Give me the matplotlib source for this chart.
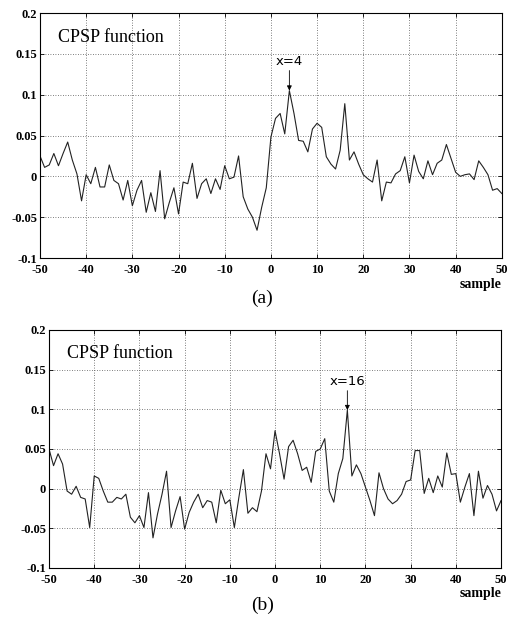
import matplotlib.pyplot as plt
from matplotlib.ticker import FixedLocator

# sample axis shared by both panels
samples = list(range(-50, 51))

# (a) CPSP function, peak at x=4
cpsp_a = [0.025, 0.011, 0.014, 0.028, 0.013, 0.028, 0.042, 0.020, 0.003, -0.030,
          0.002, -0.009, 0.011, -0.013, -0.013, 0.014, -0.005, -0.009, -0.029, -0.005,
          -0.036, -0.017, -0.005, -0.044, -0.020, -0.043, 0.007, -0.052, -0.032, -0.014,
          -0.046, -0.007, -0.009, 0.016, -0.027, -0.009, -0.003, -0.021, -0.003, -0.016,
          0.013, -0.003, -0.001, 0.025, -0.025, -0.040, -0.050, -0.066, -0.038, -0.014,
          0.048, 0.071, 0.077, 0.052, 0.105, 0.077, 0.044, 0.043, 0.030, 0.058,
          0.065, 0.060, 0.024, 0.015, 0.009, 0.032, 0.089, 0.020, 0.030, 0.015,
          0.002, -0.003, -0.007, 0.020, -0.030, -0.007, -0.008, 0.003, 0.007, 0.024,
          -0.008, 0.026, 0.006, -0.003, 0.019, 0.002, 0.016, 0.020, 0.039, 0.022,
          0.005, 0.000, 0.002, 0.003, -0.004, 0.019, 0.011, 0.002, -0.017, -0.015,
          -0.021]

# (b) CPSP function, peak at x=16
cpsp_b = [0.050, 0.029, 0.044, 0.031, -0.003, -0.007, 0.003, -0.011, -0.013, -0.049,
          0.016, 0.013, -0.003, -0.017, -0.017, -0.011, -0.013, -0.007, -0.036, -0.043,
          -0.034, -0.049, -0.005, -0.062, -0.032, -0.007, 0.022, -0.049, -0.028, -0.010,
          -0.051, -0.030, -0.017, -0.007, -0.024, -0.015, -0.017, -0.043, -0.002, -0.019,
          -0.014, -0.049, -0.011, 0.024, -0.031, -0.024, -0.029, -0.003, 0.044, 0.025,
          0.073, 0.044, 0.012, 0.053, 0.061, 0.044, 0.023, 0.027, 0.008, 0.047,
          0.050, 0.063, -0.003, -0.017, 0.019, 0.038, 0.099, 0.016, 0.030, 0.019,
          0.002, -0.015, -0.034, 0.020, 0.000, -0.013, -0.019, -0.015, -0.007, 0.009,
          0.011, 0.048, 0.048, -0.006, 0.013, -0.005, 0.016, 0.002, 0.045, 0.018,
          0.019, -0.017, 0.002, 0.019, -0.034, 0.022, -0.012, 0.004, -0.007, -0.028,
          -0.015]

xticks = [-50, -40, -30, -20, -10, 0, 10, 20, 30, 40, 50]
yticks = [-0.1, -0.05, 0, 0.05, 0.1, 0.15, 0.2]
ytick_labels = ['-0.1', '-0.05', '0', '0.05', '0.1', '0.15', '0.2']

tick_font = dict(family='Liberation Serif', weight='bold', size=9)


def draw_panel(ax, y, peak_x, peak_label, tag, tag_y):
    ax.plot(samples, y, color='#222222', lw=0.8)
    ax.set_xlim(-50, 50)
    ax.set_ylim(-0.1, 0.2)
    ax.xaxis.set_major_locator(FixedLocator(xticks))
    ax.yaxis.set_major_locator(FixedLocator(yticks))
    ax.set_xticklabels([str(t) for t in xticks], **tick_font)
    ax.set_yticklabels(ytick_labels, **tick_font)
    ax.tick_params(direction='in', length=3, width=0.6, top=True, right=True)
    ax.tick_params(axis='x', pad=4)
    ax.tick_params(axis='y', pad=2)
    ax.grid(True, linestyle=(0, (1, 2)), color='#555555', lw=0.6)
    for s in ax.spines.values():
        s.set_linewidth(0.8)
    ax.text(-46, 0.165, 'CPSP function', family='Liberation Serif', fontsize=13)
    peak_y = y[samples.index(peak_x)]
    ax.annotate(peak_label, xy=(peak_x, peak_y), xytext=(peak_x, peak_y + 0.028),
                ha='center', va='bottom', fontsize=9.5, family='DejaVu Sans',
                arrowprops=dict(arrowstyle='-|>', color='black', lw=0.6,
                                mutation_scale=7, shrinkA=0, shrinkB=0))
    ax.text(1.0, -0.08, 'sample', transform=ax.transAxes, ha='right', va='top',
            family='Liberation Serif', weight='bold', fontsize=10)
    fig.text(0.508, tag_y, tag, ha='center', va='center',
             family='Liberation Serif', fontsize=14)


fig = plt.figure(figsize=(5.16, 6.27), dpi=100)
ax1 = fig.add_axes([0.0775, 0.5885, 0.895, 0.3907])
ax2 = fig.add_axes([0.095, 0.0941, 0.876, 0.3796])

draw_panel(ax1, cpsp_a, 4, 'x=4', '(a)', 1 - 298 / 627)
draw_panel(ax2, cpsp_b, 16, 'x=16', '(b)', 1 - 605 / 627)

fig.savefig('out.png', dpi=100)
